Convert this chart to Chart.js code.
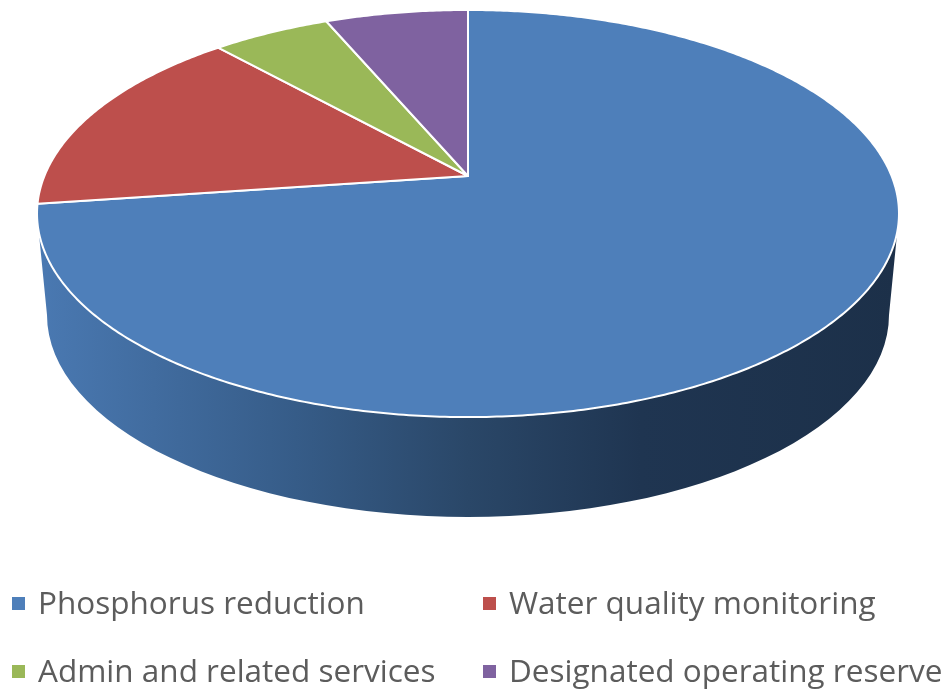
<!DOCTYPE html>
<html>
<head>
<meta charset="utf-8">
<script src="https://cdn.jsdelivr.net/npm/chart.js@4/dist/chart.umd.min.js"></script>
<style>
  html, body { margin: 0; background: #fff; }
  #wrap { position: relative; width: 946px; height: 690px; overflow: hidden; }
  #pie { display: block; filter: blur(0.6px); }
  #legend { position: absolute; left: 0; top: 0; filter: blur(0.7px); }
  .item { position: absolute; font: 31.5px "Open Sans", sans-serif; color: #5c5c5c; line-height: 40px; white-space: nowrap; }
  .item i { position: absolute; left: 0; top: 15px; width: 13px; height: 13px; }
  .item span { position: absolute; left: 26px; top: 0; }
</style>
</head>
<body>
<div id="wrap">
  <canvas id="pie" width="946" height="690"></canvas>
  <div id="legend"></div>
</div>
<script>
const categories = ["Phosphorus reduction", "Water quality monitoring", "Admin and related services", "Designated operating reserve"];
const shares = [72.8, 15.5, 5.3, 6.4];
const sliceColors = ["#4e7fba", "#bd4f4c", "#9ab858", "#7f62a0"];
const wallColors = ["#4a79b2", "#365c88", "#2a4768", "#1f3551", "#1c3049"];

// tilted disc: perspective mapping of the unit circle to the page
const centerX = 468, apexY = 176, halfX = 423.6, halfY = 164.2, tilt = -0.1843;

function project(angle) {
    const t = angle + Math.PI / 2;
    const u = Math.sin(t), v = -Math.cos(t), w = 1 + tilt * v;
    return [centerX + halfX * u / w, (apexY + halfY * v) / w];
}

function traceRim(ctx, from, to) {
    const steps = Math.max(2, Math.ceil(Math.abs(to - from) / 0.01));
    for (let i = 0; i <= steps; i++) {
        const p = project(from + (to - from) * i / steps);
        ctx.lineTo(p[0], p[1]);
    }
}

function drawWall(ctx) {
    const grad = ctx.createLinearGradient(37, 0, 899, 0);
    wallColors.forEach((c, i) => grad.addColorStop([0, 0.3, 0.5, 0.7, 1][i], c));
    ctx.beginPath();
    ctx.moveTo(37, 214);
    ctx.lineTo(47, 315);
    ctx.ellipse(468, 315, 421, 202, 0, Math.PI, 0, true);
    ctx.lineTo(899, 214);
    ctx.closePath();
    ctx.fillStyle = grad;
    ctx.fill();
}

const tiltedPie = {
    id: "tiltedPie",
    beforeDatasetsDraw(chart) {
        const ctx = chart.ctx;
        const arcs = chart.getDatasetMeta(0).data;
        ctx.save();
        drawWall(ctx);
        arcs.forEach((arc, i) => {
            ctx.beginPath();
            ctx.moveTo(centerX, apexY);
            traceRim(ctx, arc.startAngle, arc.endAngle);
            ctx.closePath();
            ctx.fillStyle = sliceColors[i];
            ctx.fill();
            ctx.strokeStyle = "#ffffff";
            ctx.lineWidth = 2;
            ctx.lineJoin = "round";
            ctx.stroke();
        });
        ctx.restore();
        return false;
    }
};

const pieChart = new Chart(document.getElementById("pie"), {
    type: "pie",
    data: {
        labels: categories,
        datasets: [{ data: shares, backgroundColor: sliceColors, borderColor: "#ffffff", borderWidth: 2 }]
    },
    options: {
        responsive: false,
        animation: false,
        plugins: { legend: { display: false }, tooltip: { enabled: false } }
    },
    plugins: [tiltedPie]
});

// legend in two fixed columns, same as the original
const legendBox = document.getElementById("legend");
const legendLeft = [12, 12 + 471], legendTop = [582, 650];
pieChart.options.plugins.legend.labels.generateLabels(pieChart).forEach((item, i) => {
    const el = document.createElement("div");
    el.className = "item";
    el.style.left = legendLeft[i % 2] + "px";
    el.style.top = legendTop[Math.floor(i / 2)] + "px";
    const box = document.createElement("i");
    box.style.background = item.fillStyle;
    const text = document.createElement("span");
    text.textContent = item.text;
    el.append(box, text);
    legendBox.append(el);
});
</script>
</body>
</html>
